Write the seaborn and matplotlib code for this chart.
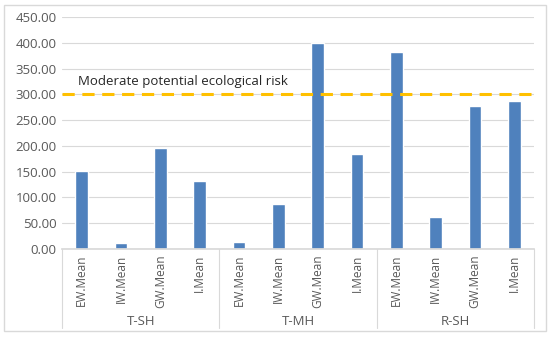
import pandas as pd
import seaborn as sns
from matplotlib import pyplot as plt
from matplotlib.patches import Rectangle

sns.set_theme(style="white")
plt.rcParams['font.family'] = ['Open Sans', 'DejaVu Sans']

# data
groups = ["T-SH", "T-MH", "R-SH"]
labels = ["EW.Mean", "IW.Mean", "GW.Mean", "I.Mean"]
values = [
    [151, 12, 195, 132],   # T-SH
    [13, 87, 399, 184],    # T-MH
    [383, 63, 278, 288],   # R-SH
]
risk_level = 300
risk_text = "Moderate potential ecological risk"

rows = []
for g, vals in zip(groups, values):
    for lab, v in zip(labels, vals):
        rows.append({"key": g + "|" + lab, "label": lab, "group": g, "value": v})
data = pd.DataFrame(rows)

fig = plt.figure(figsize=(5.5, 3.39), dpi=100)
ax = fig.add_axes([62 / 550, 1 - 249 / 339, 472 / 550, 232 / 339])

sns.barplot(data=data, x="key", y="value", color="#4F81BD", width=0.32,
            saturation=1, ax=ax)

ax.set_ylim(0, 450)
ax.set_xlim(-0.5, len(data) - 0.5)
ax.set_yticks(range(0, 451, 50))
ax.set_yticklabels([f"{v:.2f}" for v in range(0, 451, 50)], color="#595959", fontsize=9.5)
ax.set_xticks(range(len(data)))
ax.set_xticklabels(data["label"], rotation=90, color="#595959", fontsize=8.5)
ax.tick_params(axis="both", length=0, pad=4)
ax.yaxis.grid(True, color="#D9D9D9", linewidth=0.8)
ax.set_axisbelow(True)
for side in ["left", "right", "top"]:
    ax.spines[side].set_visible(False)
ax.spines["bottom"].set_color("#D9D9D9")
ax.set(xlabel="", ylabel="")

# threshold line
ax.axhline(risk_level, color="#FFC000", linestyle=(0, (4, 2.5)), linewidth=2.2, zorder=3)
ax.text(-0.1, risk_level + 12, risk_text, fontsize=9.5, color="#262626", va="bottom")

# group separators and labels under the category axis
trans = ax.get_xaxis_transform()
y_low = ((339 - 328) / 339 - (1 - 249 / 339)) / (232 / 339)
for i in range(len(groups) + 1):
    xpos = i * len(labels) - 0.5
    ax.plot([xpos, xpos], [0, y_low], transform=trans, color="#D9D9D9",
            linewidth=0.8, clip_on=False)
for i, g in enumerate(groups):
    xc = i * len(labels) + (len(labels) - 1) / 2
    ax.text(xc, y_low + 0.03, g, transform=trans, ha="center", va="center",
            fontsize=9.5, color="#595959")

# chart border
fig.patches.append(Rectangle((4 / 550, 8 / 339), 542 / 550, 326 / 339,
                             transform=fig.transFigure, fill=False,
                             edgecolor="#D9D9D9", linewidth=1))

plt.savefig("out.png", dpi=100)
